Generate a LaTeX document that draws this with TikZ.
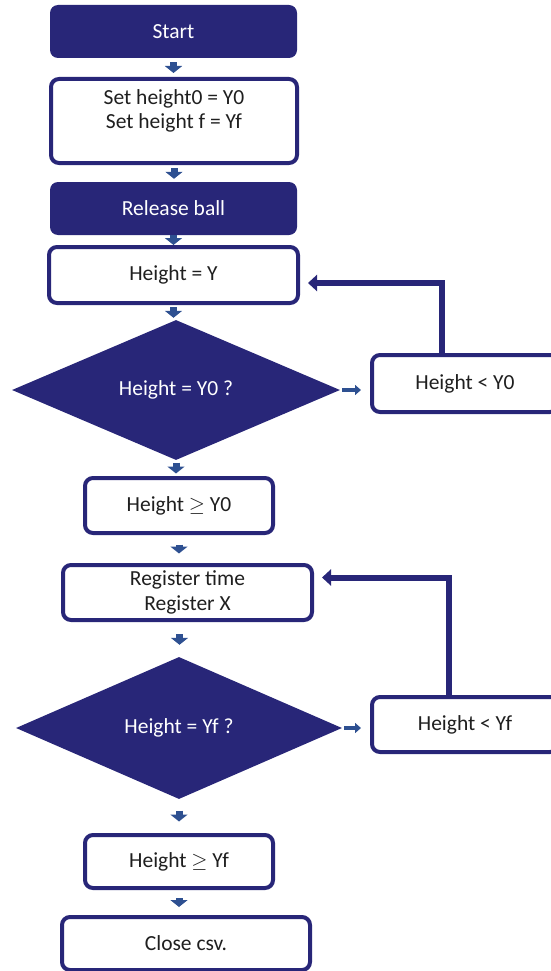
\documentclass[tikz,border=0pt]{standalone}
\usepackage{fontspec}
\setmainfont{Carlito}
\usetikzlibrary{positioning,shapes.geometric,arrows.meta,calc}
\definecolor{navy}{RGB}{40,38,120}
\definecolor{flowblue}{RGB}{46,80,145}
\tikzset{
filledbox/.style={
  rectangle,
  rounded corners=8pt,
  fill=navy,
  text=white,
  inner sep=0pt,
  align=center,
  minimum width=247pt,
  minimum height=53pt
},
linebox/.style={
  rectangle,
  rounded corners=8pt,
  draw=navy,
  line width=4pt,
  fill=white,
  text=black!88,
  inner sep=0pt,
  align=center
},
decision/.style={
  diamond,
  fill=navy,
  text=white,
  inner sep=0pt,
  minimum width=328pt,
  minimum height=140pt
},
downarrow/.style={draw=flowblue, line width=7pt, -{Triangle[width=17pt,length=7pt]}, shorten <=#1, shorten >=#1},
downarrow/.default=2pt,
sidearrow/.style={draw=flowblue, line width=4pt, -{Triangle[width=10pt,length=6pt]}, shorten <=2pt, shorten >=9pt},
loopback/.style={draw=navy, line width=6pt, -{Triangle[width=16pt,length=9pt]}, shorten >=8pt}
}

\begin{document}
\begin{tikzpicture}[x=1pt, y=-1pt, font=\fontsize{21.5}{24.4}\selectfont]
  \useasboundingbox (0,0) rectangle (551,971);

  \node[filledbox] (Start) at (173.5,31.5) {Start};
  \node[linebox,minimum width=246pt,minimum height=84pt] (SetHeight) at (174,121)
    {Set height0 = Y0\\Set height f = Yf\\\mbox{}};
  \node[filledbox] (Release) at (173.5,208.5) {Release ball};
  \node[linebox,minimum width=249pt,minimum height=56pt] (HeightY) at (173.5,275) {Height = Y};
  \node[decision] (CheckY0) at (176,390) {Height = Y0 ?};
  \node[linebox,minimum width=186pt,minimum height=57pt] (LessY0) at (465,383.5) {Height < Y0};
  \node[linebox,minimum width=188pt,minimum height=55pt] (GeqY0) at (179,505.5) {Height $\geq$ Y0};
  \node[linebox,minimum width=249pt,minimum height=55pt] (Register) at (187.5,592.5)
    {Register time\\Register X};
  \node[decision,minimum width=326pt,minimum height=142pt] (CheckYf) at (179,728) {Height = Yf ?};
  \node[linebox,minimum width=186pt,minimum height=55pt] (LessYf) at (465,724.5) {Height < Yf};
  \node[linebox,minimum width=188pt,minimum height=53pt] (GeqYf) at (179,861.5) {Height $\geq$ Yf};
  \node[linebox,minimum width=248pt,minimum height=53pt] (Close) at (186,943.5) {Close csv.};

  \draw[downarrow=4pt] (Start.south) -- (Start.south |- SetHeight.north);
  \draw[downarrow=3pt] (SetHeight.south) -- (SetHeight.south |- Release.north);
  \draw[downarrow=0pt] (Release.south) -- (Release.south |- HeightY.north);
  \draw[downarrow=2pt] (HeightY.south) -- (HeightY.south |- CheckY0.north);
  \draw[downarrow=2.5pt] (CheckY0.south) -- (CheckY0.south |- GeqY0.north);
  \draw[downarrow=9.5pt] (GeqY0.south) -- (GeqY0.south |- Register.north);
  \draw[downarrow=12pt] ([xshift=-8pt]Register.south) -- ([xshift=-8pt]Register.south |- CheckYf.north);
  \draw[downarrow=11.5pt] (CheckYf.south) -- (CheckYf.south |- GeqYf.north);
  \draw[downarrow=8pt] (GeqYf.south) -- (GeqYf.south |- Close.north);

  \draw[sidearrow] (CheckY0.east) -- (CheckY0.east -| LessY0.west);
  \draw[sidearrow] (CheckYf.east) -- (CheckYf.east -| LessYf.west);

  \draw[loopback] ([xshift=72pt]LessY0.north west) |- ([yshift=-8pt]HeightY.east);
  \draw[loopback] ([xshift=79pt]LessYf.north west) |- ([yshift=15pt]Register.east);
\end{tikzpicture}
\end{document}
